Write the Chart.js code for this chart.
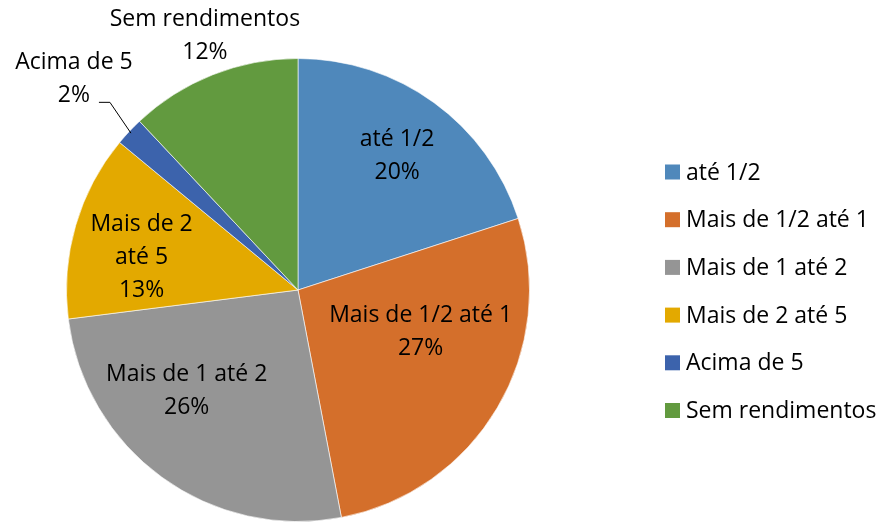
<!DOCTYPE html>
<html lang="pt">
<head>
    <meta charset="UTF-8">
    <title>Rendimentos</title>
    <script src="https://cdn.jsdelivr.net/npm/chart.js@4/dist/chart.umd.min.js"></script>
    <style>
        html, body { margin: 0; padding: 0; background: #ffffff; }
        #wrap { width: 887px; height: 523px; position: relative; }
    </style>
</head>
<body>
    <div id="wrap"><canvas id="pieChart"></canvas></div>
    <script>
        // Data
        const categories = ['até 1/2', 'Mais de 1/2 até 1', 'Mais de 1 até 2', 'Mais de 2 até 5', 'Acima de 5', 'Sem rendimentos'];
        const shares = [20, 27, 26, 13, 2, 12];
        const sliceLabels = [['até 1/2'], ['Mais de 1/2 até 1'], ['Mais de 1 até 2'], ['Mais de 2', 'até 5'], ['Acima de 5'], ['Sem rendimentos']];
        const colors = ['#4f88bb', '#d46f2b', '#959595', '#e3a900', '#3c63ac', '#629a3f'];

        // label placement: [distance as fraction of radius, angle in degrees]
        const labelPolar = [[0.72, -53.5], [0.56, 19], [0.65, 137.7], [0.69, 191.7], [1.33, 223.3], [1.17, 249.9]];

        const FONT = '23px "Open Sans"';
        const LINE_H = 33;

        const labelPlugin = {
            id: 'sliceLabels',
            afterDatasetsDraw(chart) {
                const ctx = chart.ctx;
                const meta = chart.getDatasetMeta(0);
                ctx.save();
                ctx.font = FONT;
                ctx.fillStyle = '#000';
                ctx.textAlign = 'center';
                ctx.textBaseline = 'middle';
                meta.data.forEach((arc, i) => {
                    const r = arc.outerRadius;
                    const a = labelPolar[i][1] * Math.PI / 180;
                    const x = arc.x + Math.cos(a) * r * labelPolar[i][0];
                    const y = arc.y + Math.sin(a) * r * labelPolar[i][0];
                    const lines = sliceLabels[i].concat([shares[i] + '%']);
                    const top = y - (lines.length - 1) * LINE_H / 2;
                    lines.forEach((t, k) => ctx.fillText(t, x, top + k * LINE_H));

                    // leader line for the small slice
                    if (i === 4) {
                        const mid = (arc.startAngle + arc.endAngle) / 2;
                        const ex = arc.x + Math.cos(mid) * r * 0.99;
                        const ey = arc.y + Math.sin(mid) * r * 0.99;
                        const ly = top + LINE_H + 7;
                        ctx.strokeStyle = '#000';
                        ctx.lineWidth = 1;
                        ctx.beginPath();
                        ctx.moveTo(x + 25, ly);
                        ctx.lineTo(x + 36, ly);
                        ctx.lineTo(ex, ey);
                        ctx.stroke();
                    }
                });
                ctx.restore();
            }
        };

        const legendPlugin = {
            id: 'sideLegend',
            afterDraw(chart) {
                const ctx = chart.ctx;
                const x0 = 665, y0 = 172, gap = 47.7, box = 15;
                ctx.save();
                ctx.font = FONT;
                ctx.textAlign = 'left';
                ctx.textBaseline = 'middle';
                chart.data.labels.forEach((lab, i) => {
                    const y = y0 + i * gap;
                    ctx.fillStyle = colors[i];
                    ctx.fillRect(x0, y - box / 2, box, box);
                    ctx.fillStyle = '#000';
                    ctx.fillText(lab, x0 + 21, y + 1);
                });
                ctx.restore();
            }
        };

        new Chart(document.getElementById('pieChart'), {
            type: 'pie',
            data: {
                labels: categories,
                datasets: [{
                    data: shares,
                    backgroundColor: colors,
                    borderColor: 'rgba(255,255,255,0.6)',
                    borderWidth: 1
                }]
            },
            options: {
                responsive: true,
                maintainAspectRatio: false,
                animation: false,
                layout: { padding: { left: 66, right: 357, top: 58, bottom: 1 } },
                plugins: {
                    legend: { display: false },
                    tooltip: { enabled: false }
                }
            },
            plugins: [labelPlugin, legendPlugin]
        });
    </script>
</body>
</html>
